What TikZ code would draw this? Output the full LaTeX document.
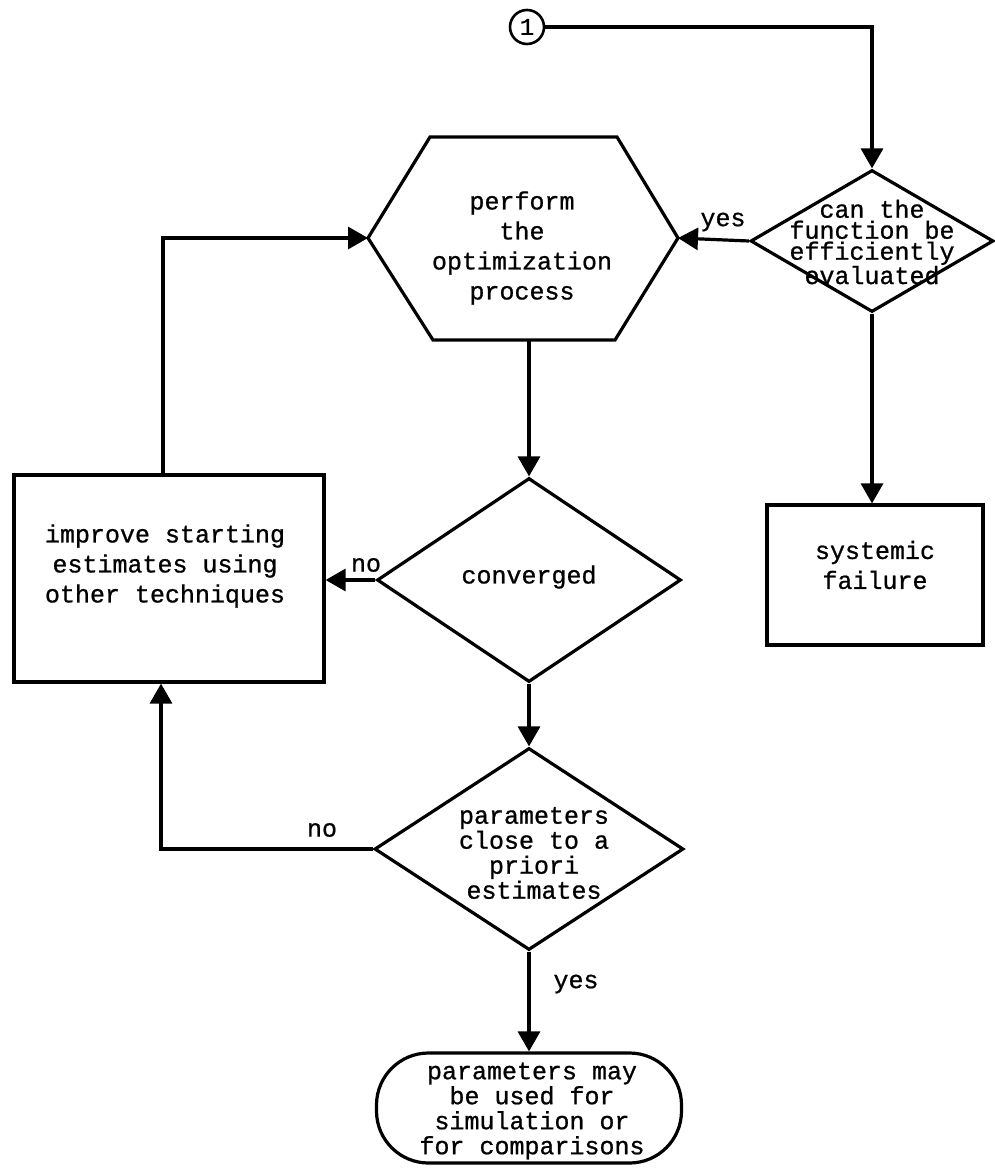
\documentclass[tikz,border=0pt]{standalone}
\usepackage{fontspec}
\setmainfont{Liberation Mono}[FakeBold=0.8]
\usetikzlibrary{arrows.meta,shapes.geometric,calc}
\begin{document}
\begin{tikzpicture}[x=1pt,y=-1pt,
  line width=3.2pt,
  txt/.style={font=\fontsize{25}{30}\selectfont, align=center, inner sep=0pt},
  txtb/.style={font=\fontsize{25}{25}\selectfont, align=center, inner sep=0pt},
  txtc/.style={font=\fontsize{25}{21}\selectfont, align=center, inner sep=0pt},
  arr/.style={-{Triangle[length=20pt,width=22pt]}},
  dia/.style={draw, diamond, inner sep=0pt},
  box/.style={draw, rectangle, inner sep=0pt}]
\useasboundingbox (0,0) rectangle (994,1174);

% connector
\node[draw, circle, minimum size=34pt, inner sep=0pt, line width=2.6pt,
      font=\fontsize{24}{24}\selectfont] (con) at (527,27) {1};

% decision: can the function be efficiently evaluated
\node[dia, minimum width=243pt, minimum height=142pt] (can) at (872,241) {};
\node[txtc] (cantxt) at (872,242) {can the\\function be\\efficiently\\evaluated};

% hexagon
\coordinate (hexL) at (368,238);
\coordinate (hexTL) at (430,137);
\coordinate (hexTR) at (617,137);
\coordinate (hexR) at (678,238);
\coordinate (hexBR) at (615,340);
\coordinate (hexBL) at (433,340);
\coordinate (hexB) at (529,340);
\draw (hexL) -- (hexTL) -- (hexTR) -- (hexR) -- (hexBR) -- (hexBL) -- cycle;
\node[txt] (hex) at (522,248) {perform\\the\\optimization\\process};

% converged
\node[dia, minimum width=304pt, minimum height=204pt] (conv) at (529,580) {};
\node[txt] (convtxt) at (529,577) {converged};

% improve box
\node[box, minimum width=310pt, minimum height=207pt] (imp) at (169,578.5) {};
\node[txt] (imptxt) at (165,566) {improve starting\\estimates using\\other techniques};

% parameters close
\node[dia, minimum width=309pt, minimum height=202pt] (par) at (529,849) {};
\node[txtb] (partxt) at (534,853) {parameters\\close to a\\priori\\estimates};

% terminal
\node[draw, rectangle, rounded corners=52pt, minimum width=305pt, minimum height=110pt] (term) at (529,1108) {};
\node[txtb] (termtxt) at (532,1111) {parameters may\\be used for\\simulation or\\for comparisons};

% systemic failure
\node[box, minimum width=216pt, minimum height=140pt] (sys) at (875,575) {};
\node[txt] (systxt) at (875,565) {systemic\\failure};

% labels
\node[txt] (lyes1) at (723,222) {yes};
\node[txt] (lno1) at (366,565) {no};
\node[txt] (lno2) at (322,830) {no};
\node[txt] (lyes2) at (576,984) {yes};

% connectors
\draw[arr] (con.east) -| (can.north);
\draw[arr] (can.west) -- (hexR);
\draw[arr] (can.south) -- (can.south |- sys.north);
\draw[arr] (hexB) -- (conv.north);
\draw[arr] (conv.west) -- (conv.west -| imp.east);
\draw[arr] ([xshift=-6pt]imp.north) |- (hexL);
\draw[arr] (conv.south) -- (par.north);
\draw[arr] (par.west) -| ([xshift=-8pt]imp.south);
\draw[arr] (par.south) -- (term.north);
\end{tikzpicture}
\end{document}
